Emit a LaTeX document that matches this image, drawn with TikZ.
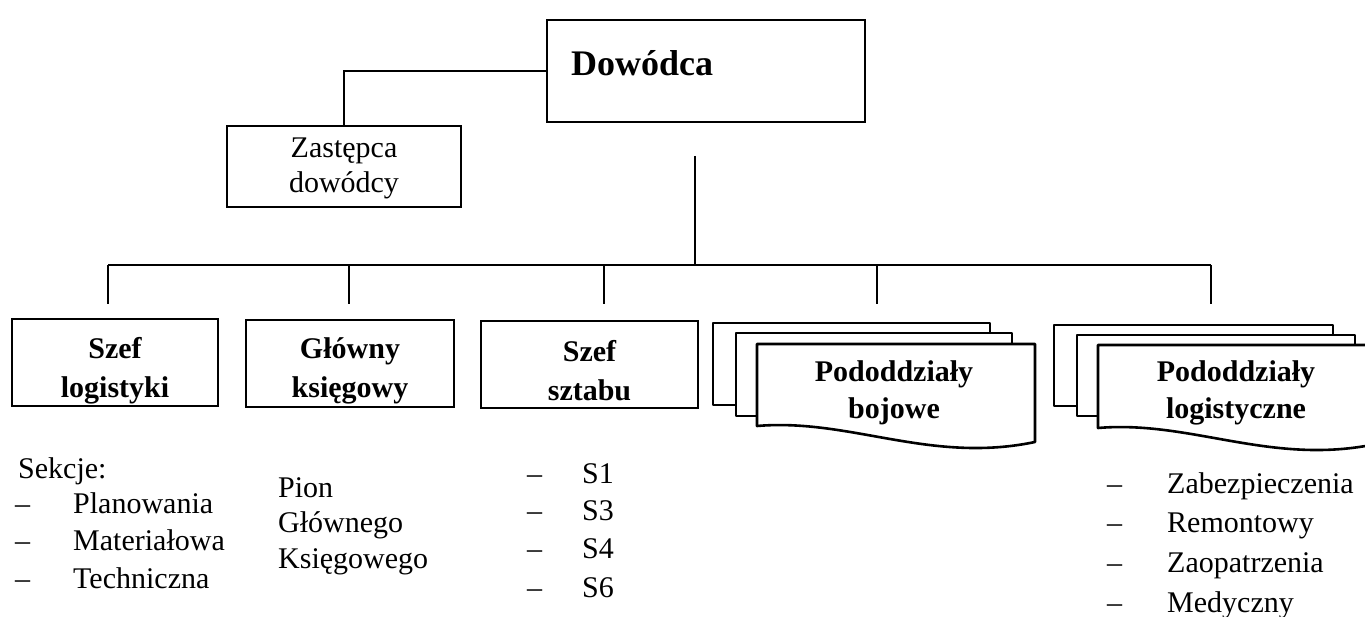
\documentclass[tikz,border=0pt]{standalone}
\usepackage{fontspec}
\setmainfont{Liberation Serif}
\begin{document}
\begin{tikzpicture}[x=1pt,y=-1pt,
  box/.style={draw, fill=white, line width=2.6pt, inner sep=0pt, align=center,
    font=\fontsize{30}{38}\selectfont\bfseries},
  sheet/.style={draw, fill=white, line width=2.6pt, line join=round},
  title/.style={inner sep=0pt, align=center, font=\fontsize{30}{37}\selectfont\bfseries},
  item/.style={anchor=base west, inner sep=0pt, font=\fontsize{30}{36}\selectfont},
  link/.style={draw, line width=2.3pt}]

\clip (0,0) rectangle (1365,617);
\fill[white] (0,0) rectangle (1365,617);

% commander and deputy
\node[box, minimum width=318pt, minimum height=102pt] (dow) at (706,71) {};
\node[anchor=west, inner sep=0pt, font=\fontsize{36}{40}\selectfont\bfseries] (dowt) at (571,63) {Dowódca};
\node[box, font=\fontsize{30}{35}\selectfont, minimum width=234pt, minimum height=81pt]
  (zas) at (344,166.5) {};
\node[inner sep=0pt, align=center, font=\fontsize{30}{35}\selectfont] (zast) at (344,168.5) {Zastępca\\dowódcy};
\path[link] (dow.west) -| (zas.north);

% trunk and bus
\coordinate (trunktop) at (695,156);
\coordinate (trunkbot) at (695,265);
\coordinate (busL) at (108,265);
\coordinate (busR) at (1211,265);
\path[link] (trunktop) -- (trunkbot);
\path[link] (busL) -- (busR);
\foreach \n/\x in {a/108,b/349,c/604,d/877,e/1211}{
  \coordinate (top\n) at (\x,265);
  \coordinate (end\n) at (\x,304);
  \path[link] (top\n) -- (end\n);
}

% staff boxes
\node[box, minimum width=206pt, minimum height=87pt] (lg) at (115,362.5) {};
\node[box, minimum width=208pt, minimum height=87pt] (gk) at (350,363.5) {};
\node[box, minimum width=217pt, minimum height=87pt] (ss) at (589.5,364.5) {};
\node[title, font=\fontsize{30}{39}\selectfont\bfseries] (lgt) at (115,370.5) {Szef\\logistyki};
\node[title, font=\fontsize{30}{39}\selectfont\bfseries] (gkt) at (350,370.5) {Główny\\księgowy};
\node[title, font=\fontsize{30}{39}\selectfont\bfseries] (sst) at (589.5,370.5) {Szef\\sztabu};

% combat subunits (stack of sheets)
\draw[sheet] (713,323) rectangle (990,405);
\draw[sheet] (736,333) rectangle (1012,416);
\draw[sheet] (757,344) -- (1035,344) -- (1035,442)
  .. controls (930,464) and (850,418) .. (757,426) -- cycle;
\node[title] (pb) at (894,393) {Pododdziały\\bojowe};

% logistic subunits (stack of sheets)
\draw[sheet] (1054,325) rectangle (1333,406);
\draw[sheet] (1077,335) rectangle (1355,416);
\draw[sheet] (1098,345) -- (1376,345) -- (1376,444)
  .. controls (1271,466) and (1191,420) .. (1098,428) -- cycle;
\node[title] (pl) at (1236,393) {Pododdziały\\logistyczne};

% sections of the logistics chief
\node[item] (sek) at (18,478) {Sekcje:};
\node[item] (sd1) at (15,513) {–};
\node[item] (s1) at (73,513) {Planowania};
\node[item] (sd2) at (15,550) {–};
\node[item] (s2) at (73,550) {Materiałowa};
\node[item] (sd3) at (15,588) {–};
\node[item] (s3) at (73,588) {Techniczna};

% chief accountant division
\node[item] (p1) at (278,497) {Pion};
\node[item] (p2) at (278,532) {Głównego};
\node[item] (p3) at (278,568) {Księgowego};

% staff cells
\node[item] (cd1) at (527,483) {–};
\node[item] (c1) at (582,483) {S1};
\node[item] (cd2) at (527,520) {–};
\node[item] (c2) at (582,520) {S3};
\node[item] (cd3) at (527,558) {–};
\node[item] (c3) at (582,558) {S4};
\node[item] (cd4) at (527,597) {–};
\node[item] (c4) at (582,597) {S6};

% logistic subunit types
\node[item] (ld1) at (1107,493) {–};
\node[item] (l1) at (1167,493) {Zabezpieczenia};
\node[item] (ld2) at (1107,532) {–};
\node[item] (l2) at (1167,532) {Remontowy};
\node[item] (ld3) at (1107,572) {–};
\node[item] (l3) at (1167,572) {Zaopatrzenia};
\node[item] (ld4) at (1107,612) {–};
\node[item] (l4) at (1167,612) {Medyczny};
\end{tikzpicture}
\end{document}
